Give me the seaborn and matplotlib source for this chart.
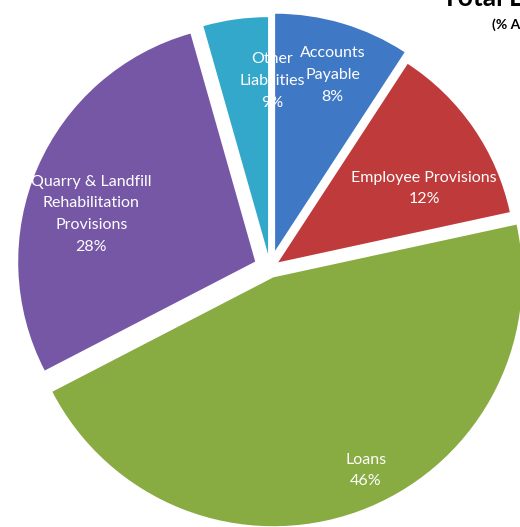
import numpy as np
import matplotlib
matplotlib.use("Agg")
import matplotlib.pyplot as plt
import seaborn as sns

# slice sizes, labels as printed on it
categories = ["Accounts\nPayable", "Employee Provisions", "Loans",
              "Quarry & Landfill\nRehabilitation\nProvisions", "Other\nLiabilities"]
values = [9.2, 12.4, 45.8, 28.2, 4.4]
pct_labels = ["8%", "12%", "46%", "28%", "9%"]

colors = ["#3f78c4", "#bf3a3a", "#88ab42", "#7657a6", "#33a8cb"]
explode = [0.076, 0.042, 0.042, 0.068, 0.059]
radius_scale = [1.0, 1.0, 1.05, 1.0, 1.0]
# label placement: fraction of wedge radius, angle shift (deg)
label_pos = [(0.78, -1.6), (0.69, -7.7), (0.86, 5.8), (0.72, 7.3), (0.73, -9.3)]

sns.set_style("white")
plt.rcParams["font.family"] = ["Lato", "DejaVu Sans"]

W, H = 520, 527
fig = plt.figure(figsize=(W / 100, H / 100), dpi=100)
ax = fig.add_axes([0, 0, 1, 1])

R = 237
wedges, texts = ax.pie(values, labels=[f"{c}\n{p}" for c, p in zip(categories, pct_labels)],
                       colors=colors, explode=[e * R for e in explode],
                       startangle=90, counterclock=False,
                       radius=R, center=(270, H - 268), frame=True,
                       wedgeprops=dict(linewidth=0),
                       textprops=dict(color="white", fontsize=11.5, ha="center", va="center",
                                      linespacing=1.7))

for w, t, s, (f, da) in zip(wedges, texts, radius_scale, label_pos):
    w.set_radius(R * s)
    mid = np.deg2rad((w.theta1 + w.theta2) / 2 + da)
    cx, cy = w.center
    t.set_position((cx + f * w.r * np.cos(mid), cy + f * w.r * np.sin(mid)))
    t.set_ha("center")

ax.set_xlim(0, W)
ax.set_ylim(0, H)
ax.set_aspect("equal")
ax.axis("off")

fig.text(442 / W, 1 - 6 / H, "Total Liabilities", fontsize=19, fontweight="bold",
         ha="left", va="baseline", color="black")
fig.text(492 / W, 1 - 25 / H, "(% As at year end)", fontsize=10, fontweight="bold",
         ha="left", va="center", color="black")

fig.savefig("out.png", dpi=100)
